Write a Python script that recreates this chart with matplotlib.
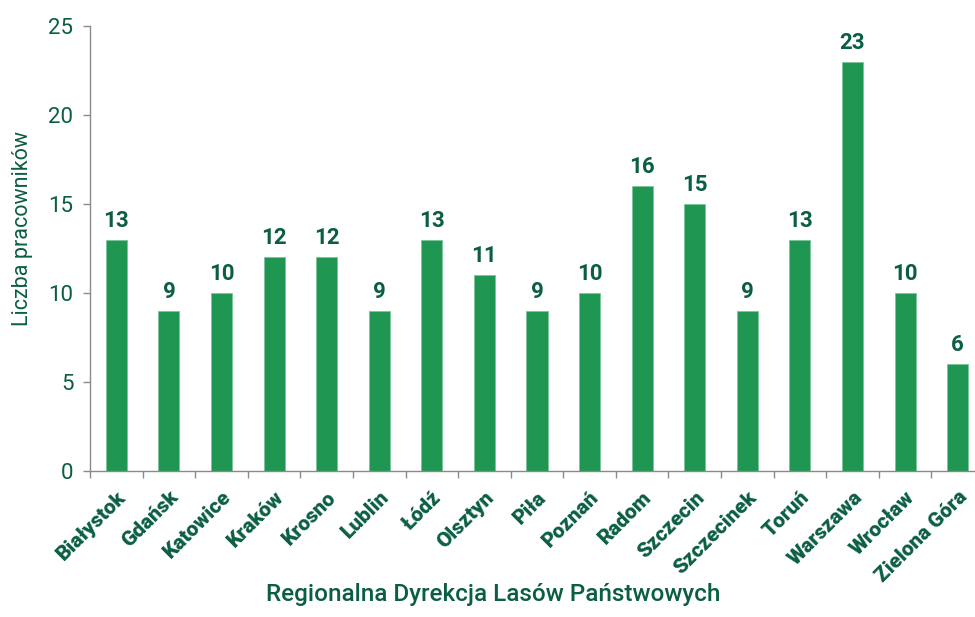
import matplotlib
matplotlib.use("Agg")
import matplotlib.pyplot as plt
import numpy as np

# data
regions = ["Białystok", "Gdańsk", "Katowice", "Kraków", "Krosno", "Lublin", "Łódź",
           "Olsztyn", "Piła", "Poznań", "Radom", "Szczecin", "Szczecinek", "Toruń",
           "Warszawa", "Wrocław", "Zielona Góra"]
employees = [13, 9, 10, 12, 12, 9, 13, 11, 9, 10, 16, 15, 9, 13, 23, 10, 6]
y_ticks = [0, 5, 10, 15, 20, 25]

bar_color = "#1f9651"
text_color = "#0b5e45"
axis_color = "#8a8a8a"

plt.rcParams["font.family"] = ["Roboto", "DejaVu Sans"]

W, H = 975, 617
fig = plt.figure(figsize=(W / 100, H / 100), dpi=100)
ax = fig.add_axes([90 / W, 146 / H, 894 / W, 445 / H])

x = np.arange(len(regions))
ax.bar(x, employees, width=0.4, color=bar_color, edgecolor="#7cc49a", linewidth=0.6)

for xi, v in zip(x, employees):
    ax.text(xi, v + 0.45, str(v), ha="center", va="bottom",
            fontsize=16, fontweight="bold", color=text_color)

ax.set_xlim(-0.5, len(regions) - 0.5)
ax.set_ylim(0, 25)
ax.set_yticks(y_ticks)
ax.tick_params(axis="y", colors=axis_color, labelcolor=text_color, labelsize=16,
               length=5, width=1, pad=7)

ax.set_xticks(x)
ax.set_xticklabels(regions, rotation=45, ha="right", rotation_mode="anchor",
                   fontsize=15, fontweight="heavy", color=text_color)
ax.tick_params(axis="x", which="major", length=0, pad=12)
ax.set_xticks(np.arange(len(regions) + 1) - 0.5, minor=True)
ax.tick_params(axis="x", which="minor", length=5, width=1, colors=axis_color)

for s in ["top", "right"]:
    ax.spines[s].set_visible(False)
for s in ["left", "bottom"]:
    ax.spines[s].set_color(axis_color)
    ax.spines[s].set_linewidth(1)

# axis titles placed in figure pixels
fig.text(23 / W, 1 - 229 / H, "Liczba pracowników", rotation=90, ha="center", va="center",
         fontsize=15.5, color=text_color)
fig.text(493 / W, 1 - 601 / H, "Regionalna Dyrekcja Lasów Państwowych", ha="center",
         va="baseline", fontsize=17.5, fontweight="medium", color=text_color)

fig.savefig("out.png", dpi=100)
